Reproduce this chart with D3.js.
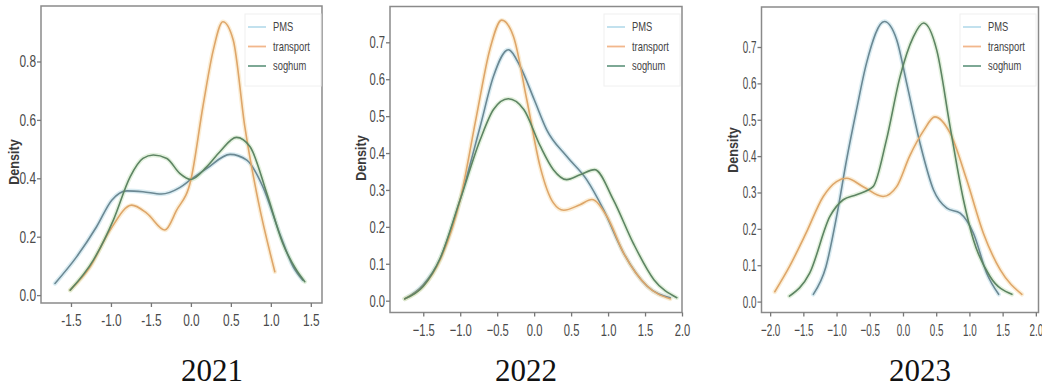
<!doctype html>
<html lang="en">
<head>
<meta charset="utf-8">
<title>Density plots</title>
<style>
  * { margin: 0; padding: 0; box-sizing: border-box; }
  body { background: #fff; }
  #chart { width: 1042px; height: 389px; }
  .tick text { font-family: "Liberation Sans", Arial, sans-serif; font-size: 17px; fill: #4a4a4a; }
</style>
</head>
<body>
<div id="chart"></div>
<script src="https://cdn.jsdelivr.net/npm/d3@7"></script>
<script>
// values: [x, density]
const years = ['2021', '2022', '2023'];
const seriesNames = ['PMS', 'transport', 'soghum'];

const pms2021 = [[-1.70,0.040],[-1.43,0.131],[-1.18,0.234],[-0.99,0.325],[-0.80,0.357],[-0.60,0.354],[-0.37,0.346],[-0.14,0.368],[0.0,0.396],[0.20,0.434],[0.49,0.482],[0.70,0.462],[0.90,0.371],[1.11,0.211],[1.28,0.097],[1.40,0.051]];
const transport2021 = [[-1.51,0.017],[-1.26,0.097],[-1.01,0.223],[-0.74,0.308],[-0.55,0.280],[-0.325,0.223],[-0.18,0.290],[0.0,0.395],[0.15,0.645],[0.28,0.839],[0.40,0.936],[0.53,0.873],[0.675,0.576],[0.84,0.325],[1.05,0.080]];
const sorghum2021 = [[-1.51,0.017],[-1.22,0.120],[-0.97,0.257],[-0.76,0.405],[-0.60,0.468],[-0.47,0.480],[-0.30,0.468],[-0.14,0.417],[0.0,0.396],[0.20,0.440],[0.36,0.490],[0.57,0.540],[0.74,0.508],[0.95,0.348],[1.15,0.177],[1.32,0.086],[1.425,0.046]];

const pms2022 = [[-1.75,0.005],[-1.5,0.043],[-1.27,0.115],[-1.0,0.274],[-0.73,0.472],[-0.55,0.608],[-0.35,0.680],[-0.19,0.635],[0.0,0.545],[0.17,0.463],[0.44,0.391],[0.71,0.328],[0.94,0.246],[1.21,0.129],[1.53,0.039],[1.84,0.008]];
const transport2022 = [[-1.75,0.005],[-1.5,0.039],[-1.27,0.111],[-1.0,0.274],[-0.78,0.500],[-0.60,0.680],[-0.44,0.760],[-0.28,0.716],[-0.10,0.545],[0.08,0.364],[0.26,0.265],[0.40,0.245],[0.62,0.260],[0.78,0.274],[0.985,0.228],[1.21,0.129],[1.53,0.039],[1.84,0.005]];
const sorghum2022 = [[-1.75,0.005],[-1.5,0.039],[-1.27,0.115],[-1.0,0.274],[-0.73,0.436],[-0.55,0.518],[-0.35,0.547],[-0.14,0.518],[0.08,0.420],[0.26,0.355],[0.44,0.328],[0.62,0.341],[0.82,0.355],[1.07,0.274],[1.34,0.156],[1.62,0.057],[1.93,0.008]];

const pms2023 = [[-1.35,0.020],[-1.16,0.096],[-0.99,0.243],[-0.85,0.389],[-0.70,0.527],[-0.55,0.655],[-0.28,0.770],[-0.095,0.720],[0.056,0.600],[0.257,0.435],[0.46,0.307],[0.66,0.257],[0.86,0.243],[1.06,0.188],[1.26,0.078],[1.44,0.020]];
const transport2023 = [[-1.93,0.027],[-1.71,0.096],[-1.46,0.188],[-1.20,0.289],[-1.0,0.330],[-0.85,0.339],[-0.60,0.316],[-0.30,0.289],[-0.095,0.316],[0.10,0.400],[0.31,0.470],[0.48,0.508],[0.71,0.463],[0.96,0.334],[1.21,0.188],[1.465,0.087],[1.79,0.020]];
const sorghum2023 = [[-1.71,0.015],[-1.405,0.078],[-1.10,0.234],[-0.90,0.280],[-0.70,0.294],[-0.45,0.316],[-0.25,0.444],[-0.045,0.618],[0.156,0.728],[0.31,0.766],[0.51,0.690],[0.71,0.480],[0.91,0.280],[1.06,0.170],[1.31,0.069],[1.64,0.020]];

const xTicks2021 = [-1.5, -1.0, -0.5, 0.0, 0.5, 1.0, 1.5];
const xLabels2021 = ['-1.5', '-1.0', '-1.5', '0.0', '0.5', '1.0', '1.5'];
const yTicks2021 = [0.0, 0.2, 0.4, 0.6, 0.8];
const xTicks2022 = [-1.5, -1.0, -0.5, 0.0, 0.5, 1.0, 1.5, 2.0];
const yTicks2022 = [0.0, 0.1, 0.2, 0.3, 0.4, 0.5, 0.6, 0.7];
const xTicks2023 = [-2.0, -1.5, -1.0, -0.5, 0.0, 0.5, 1.0, 1.5, 2.0];
const yTicks2023 = [0.0, 0.1, 0.2, 0.3, 0.4, 0.5, 0.6, 0.7];

const lineCore = ['#6b8893', '#dea66a', '#5d8463'];
const lineHalo = ['#c2e0ea', '#f9e2bd', '#d0e8c8'];
const legendCol = ['#bcdeec', '#f2b78c', '#6f9f8a'];

// panel boxes in page pixels
const panels = [
  { year: years[0], box: [41, 6, 322, 303], xd: [-1.875, 1.64], yd: [-0.027, 0.99],
    series: [pms2021, transport2021, sorghum2021], xt: xTicks2021, xl: xLabels2021, yt: yTicks2021,
    title: 212, ylab: [14, 162], leg: [245, 14], sq: 0.7 },
  { year: years[1], box: [390, 6.5, 682, 312.5], xd: [-1.95, 2.0], yd: [-0.032, 0.797],
    series: [pms2022, transport2022, sorghum2022], xt: xTicks2022, xl: null, yt: yTicks2022,
    title: 526, ylab: [361, 158], leg: [604, 14], sq: 0.66 },
  { year: years[2], box: [761.5, 7, 1038.5, 312.5], xd: [-2.13, 2.04], yd: [-0.03, 0.81],
    series: [pms2023, transport2023, sorghum2023], xt: xTicks2023, xl: null, yt: yTicks2023,
    title: 920, ylab: [733, 150], leg: [960, 14], sq: 0.58 }
];

const svg = d3.select('#chart').append('svg')
  .attr('width', 1042)
  .attr('height', 389);

panels.forEach(p => {
  const [x0, y0, x1, y1] = p.box;
  const x = d3.scaleLinear().domain(p.xd).range([x0, x1]);
  const y = d3.scaleLinear().domain(p.yd).range([y1, y0]);
  const g = svg.append('g');

  const line = d3.line()
    .x(d => x(d[0]))
    .y(d => y(d[1]))
    .curve(d3.curveMonotoneX);

  // soft halo then darker core, like the blurred original
  p.series.forEach((s, i) => {
    g.append('path').datum(s)
      .attr('d', line)
      .attr('fill', 'none')
      .attr('stroke', lineHalo[i])
      .attr('stroke-width', 4.5)
      .attr('stroke-opacity', 0.6)
      .attr('stroke-linecap', 'round');
  });
  p.series.forEach((s, i) => {
    g.append('path').datum(s)
      .attr('d', line)
      .attr('fill', 'none')
      .attr('stroke', lineCore[i])
      .attr('stroke-width', 1.6)
      .attr('stroke-linecap', 'round');
  });

  // frame
  g.append('rect')
    .attr('x', x0).attr('y', y0)
    .attr('width', x1 - x0).attr('height', y1 - y0)
    .attr('fill', 'none')
    .attr('stroke', '#8a8a8a')
    .attr('stroke-width', 1.5);

  const xAxis = d3.axisBottom(x).tickValues(p.xt).tickSize(4).tickPadding(7)
    .tickFormat((d, i) => p.xl ? p.xl[i] : d3.format('.1f')(d));
  const ax = g.append('g').attr('transform', `translate(0,${y1})`).call(xAxis);
  ax.select('.domain').remove();
  ax.selectAll('.tick line').attr('stroke', '#777').attr('stroke-width', 1.3);
  ax.selectAll('.tick text').attr('transform', `scale(${p.sq},1)`);

  const yAxis = d3.axisLeft(y).tickValues(p.yt).tickSize(4).tickPadding(2).tickFormat(d3.format('.1f'));
  const ay = g.append('g').attr('transform', `translate(${x0},0)`).call(yAxis);
  ay.select('.domain').remove();
  ay.selectAll('.tick line').attr('stroke', '#777').attr('stroke-width', 1.3);
  ay.selectAll('.tick text')
    .attr('x', -5 / p.sq)
    .attr('transform', `scale(${p.sq},1)`);

  g.append('text')
    .attr('transform', `translate(${p.ylab[0]},${p.ylab[1]}) rotate(-90) scale(0.9,1)`)
    .attr('text-anchor', 'middle')
    .attr('dy', '0.35em')
    .style('font-family', '"Liberation Sans", Arial, sans-serif')
    .style('font-size', '14px')
    .style('font-weight', 'bold')
    .attr('fill', '#3a3a3a')
    .text('Density');

  // legend
  const lg = g.append('g').attr('transform', `translate(${p.leg[0]},${p.leg[1]})`);
  lg.append('rect')
    .attr('width', 76).attr('height', 72)
    .attr('fill', '#fff')
    .attr('stroke', '#f0f0f0');
  seriesNames.forEach((n, i) => {
    const ry = 13 + i * 19.5;
    lg.append('line')
      .attr('x1', 3).attr('x2', 21)
      .attr('y1', ry).attr('y2', ry)
      .attr('stroke', legendCol[i])
      .attr('stroke-width', 1.8);
    lg.append('text')
      .attr('transform', `translate(28,${ry}) scale(0.78,1)`)
      .attr('dy', '0.35em')
      .style('font-family', '"Liberation Sans", Arial, sans-serif')
      .style('font-size', '12px')
      .attr('fill', '#444')
      .text(n);
  });

  g.append('text')
    .attr('x', p.title).attr('y', 381)
    .attr('text-anchor', 'middle')
    .style('font-family', '"Liberation Serif", "Times New Roman", serif')
    .style('font-size', '31px')
    .attr('fill', '#111')
    .text(p.year);
});
</script>
</body>
</html>
